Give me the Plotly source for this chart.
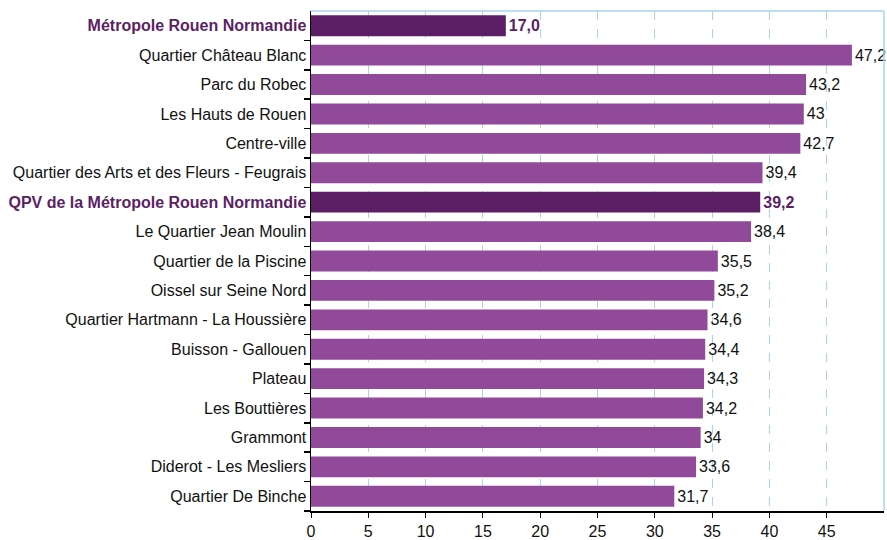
import plotly.graph_objects as go

categories = [
    "Métropole Rouen Normandie",
    "Quartier Château Blanc",
    "Parc du Robec",
    "Les Hauts de Rouen",
    "Centre-ville",
    "Quartier des Arts et des Fleurs - Feugrais",
    "QPV de la Métropole Rouen Normandie",
    "Le Quartier Jean Moulin",
    "Quartier de la Piscine",
    "Oissel sur Seine Nord",
    "Quartier Hartmann - La Houssière",
    "Buisson - Gallouen",
    "Plateau",
    "Les Bouttières",
    "Grammont",
    "Diderot - Les Mesliers",
    "Quartier De Binche",
]
values = [17.0, 47.2, 43.2, 43, 42.7, 39.4, 39.2, 38.4, 35.5, 35.2, 34.6, 34.4, 34.3, 34.2, 34, 33.6, 31.7]
value_labels = ["17,0", "47,2", "43,2", "43", "42,7", "39,4", "39,2", "38,4", "35,5", "35,2",
                "34,6", "34,4", "34,3", "34,2", "34", "33,6", "31,7"]
highlighted = ["Métropole Rouen Normandie", "QPV de la Métropole Rouen Normandie"]
x_ticks = [0, 5, 10, 15, 20, 25, 30, 35, 40, 45]

DARK = "#5C1F66"
MID = "#914A9A"
GRID = "#A9D4F0"
FONT = "Liberation Sans, Arial, Helvetica, sans-serif"

colors = [DARK if c in highlighted else MID for c in categories]
texts = [f"<b>{l}</b>" if c in highlighted else l for c, l in zip(categories, value_labels)]
text_colors = [DARK if c in highlighted else "#111111" for c in categories]
tick_text = [f"<b><span style='color:{DARK}'>{c}</span></b>" if c in highlighted else c for c in categories]

fig = go.Figure(go.Bar(
    y=categories,
    x=values,
    orientation="h",
    marker=dict(color=colors, line=dict(width=0)),
    text=texts,
    textposition="outside",
    textfont=dict(color=text_colors, size=16, family=FONT),
    cliponaxis=False,
    hoverinfo="skip",
))

fig.update_layout(
    width=887, height=540,
    margin=dict(l=311, r=3, t=11, b=29, autoexpand=False),
    plot_bgcolor="white",
    paper_bgcolor="white",
    bargap=0.29,
    showlegend=False,
    font=dict(family=FONT, size=16, color="#111111"),
)
fig.update_yaxes(
    automargin=False,
    categoryorder="array",
    categoryarray=categories[::-1],
    tickvals=categories,
    ticktext=tick_text,
    tickson="boundaries",
    ticks="outside",
    ticklen=6,
    tickcolor="black",
    tickwidth=1.5,
    showline=True,
    linecolor="black",
    linewidth=1.5,
    showgrid=False,
    tickfont=dict(size=16, family=FONT, color="#111111"),
)
fig.update_xaxes(
    automargin=False,
    range=[0, 50],
    tickvals=x_ticks,
    ticks="outside",
    ticklen=5,
    tickcolor="black",
    showline=True,
    linecolor="black",
    linewidth=1.5,
    showgrid=True,
    gridcolor=GRID,
    griddash="dash",
    gridwidth=1,
    zeroline=False,
    tickfont=dict(size=16, family=FONT, color="#111111"),
)
# light blue border on top and right
fig.add_shape(type="line", xref="paper", yref="paper", x0=0, x1=1, y0=1, y1=1,
              line=dict(color=GRID, width=1.5))
fig.add_shape(type="line", xref="paper", yref="paper", x0=1, x1=1, y0=0, y1=1,
              line=dict(color=GRID, width=1.5))

fig.write_html(
    "out.html",
    config={"displayModeBar": False, "staticPlot": True},
    post_script="document.body.style.margin='0';document.body.style.overflow='hidden';",
)
